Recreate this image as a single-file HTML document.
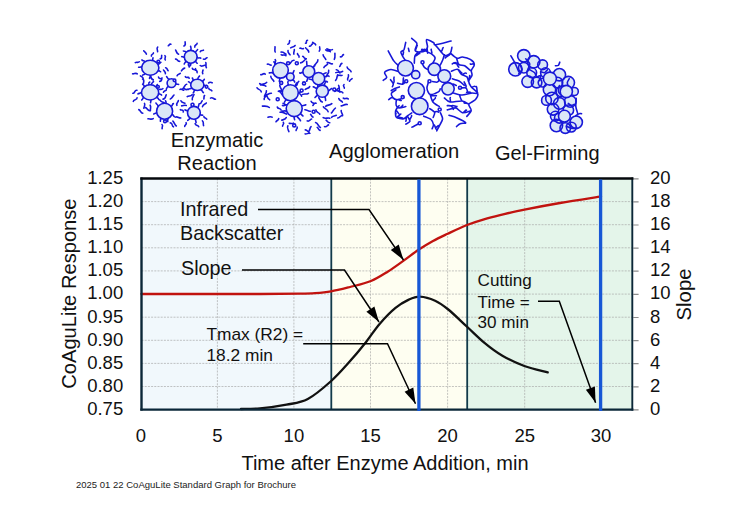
<!DOCTYPE html>
<html><head><meta charset="utf-8"><title>CoAguLite Standard Graph</title>
<style>html,body{margin:0;padding:0;background:#fff}svg{display:block}</style></head>
<body>
<svg width="752" height="505" viewBox="0 0 752 505" font-family="'Liberation Sans', Arial, sans-serif" fill="#111">
<rect width="752" height="505" fill="#fff"/>
<rect x="141.5" y="178.5" width="189.8" height="231.1" fill="#f1f8fc"/>
<rect x="331.3" y="178.5" width="135.9" height="231.1" fill="#fefef1"/>
<rect x="467.2" y="178.5" width="165.3" height="231.1" fill="#e4f5ea"/>
<path d="M141.5 201.6H632.5M141.5 224.7H632.5M141.5 247.8H632.5M141.5 270.9H632.5M141.5 294.1H632.5M141.5 317.2H632.5M141.5 340.3H632.5M141.5 363.4H632.5M141.5 386.5H632.5M217.4 178.5V409.6M293.9 178.5V409.6M370.5 178.5V409.6M447.6 178.5V409.6M524.7 178.5V409.6M601.1 178.5V409.6" stroke="#a4a4a4" stroke-width="0.65" stroke-dasharray="2 1.2" fill="none"/>
<path d="M633.3 178.8h5.3M633.3 201.9h5.3M633.3 225.0h5.3M633.3 248.1h5.3M633.3 271.2h5.3M633.3 294.4h5.3M633.3 317.5h5.3M633.3 340.6h5.3M633.3 363.7h5.3M633.3 386.8h5.3M633.3 409.9h5.3" stroke="#8c8c8c" stroke-width="1.2" fill="none"/>
<path d="M331.3 178.5V409.6M467.2 178.5V409.6" stroke="#123a4a" stroke-width="1.8" fill="none"/>
<path d="M141.5 294.0 C151.2 294.0 180.2 294.0 200.0 294.0 C219.8 294.0 243.3 294.1 260.0 294.0 C276.7 293.9 290.8 293.8 300.0 293.7 C309.2 293.6 309.8 293.6 315.0 293.2 C320.2 292.8 325.2 292.4 331.0 291.4 C336.8 290.4 343.3 288.7 350.0 287.0 C356.7 285.3 364.7 283.6 371.0 281.0 C377.3 278.4 382.5 274.9 388.0 271.5 C393.5 268.1 398.9 264.0 404.0 260.4 C409.1 256.8 413.7 253.0 418.5 249.8 C423.3 246.6 428.1 243.7 433.0 241.0 C437.9 238.3 441.9 236.5 447.6 233.8 C453.3 231.1 460.9 227.4 467.0 225.0 C473.1 222.6 478.5 220.9 484.0 219.3 C489.5 217.7 493.2 216.8 500.0 215.2 C506.8 213.6 514.5 211.6 524.5 209.6 C534.5 207.6 547.2 205.2 560.0 203.0 C572.8 200.8 594.2 197.5 601.0 196.4" stroke="#c1130f" stroke-width="2.3" fill="none" stroke-linecap="round"/>
<path d="M241.0 409.0 C244.2 408.9 252.4 409.1 260.0 408.4 C267.6 407.7 278.5 406.3 286.5 404.7 C294.5 403.1 300.4 402.9 307.8 399.0 C315.2 395.1 324.6 386.9 331.2 381.0 C337.8 375.1 341.8 370.4 347.7 363.8 C353.6 357.2 361.0 348.4 366.3 341.7 C371.6 335.0 374.7 329.5 379.6 323.9 C384.5 318.3 390.6 311.9 395.5 307.9 C400.4 303.8 404.7 301.5 408.8 299.6 C412.9 297.7 415.6 296.4 420.0 296.6 C424.4 296.8 430.4 298.6 435.1 300.7 C439.8 302.8 442.9 305.1 448.3 309.5 C453.7 313.9 461.2 321.4 467.3 327.0 C473.4 332.6 479.0 338.3 484.8 343.1 C490.6 347.9 495.8 351.9 502.4 355.7 C509.0 359.5 516.8 363.2 524.3 366.0 C531.8 368.8 543.8 371.3 547.7 372.4" stroke="#111" stroke-width="2.3" fill="none" stroke-linecap="round"/>
<path d="M141.5 177.5V410.6" stroke="#0b2738" stroke-width="2.4" fill="none"/>
<path d="M632.3 177.5V410.6" stroke="#0b2738" stroke-width="1.9" fill="none"/>
<path d="M140.3 178.5H633.4" stroke="#05080c" stroke-width="2.6" fill="none"/>
<path d="M140.3 409.6H633.4" stroke="#0b2738" stroke-width="2.2" fill="none"/>
<path d="M418.9 179.5V411.1M600.6 179.5V411.1" stroke="#1757d6" stroke-width="3.3" fill="none"/>
<polyline points="258.0,209.5 369.0,209.5 403.5,260.0" stroke="#000" stroke-width="1.5" fill="none"/>
<polygon points="403.5,260.0 390.8,249.9 398.7,244.5" fill="#000"/>
<polyline points="242.0,270.0 344.5,270.0 379.0,322.0" stroke="#000" stroke-width="1.5" fill="none"/>
<polygon points="379.0,322.0 366.4,311.7 374.4,306.4" fill="#000"/>
<polyline points="303.2,343.8 387.5,343.8 415.5,403.7" stroke="#000" stroke-width="1.5" fill="none"/>
<polygon points="415.5,403.7 404.6,391.7 413.3,387.6" fill="#000"/>
<polyline points="538.0,301.2 559.3,301.2 595.6,402.8" stroke="#000" stroke-width="1.5" fill="none"/>
<polygon points="595.6,402.8 585.9,389.8 594.9,386.6" fill="#000"/>
<text x="123.2" y="183.8" font-size="18.5" text-anchor="end" textLength="36" lengthAdjust="spacingAndGlyphs">1.25</text>
<text x="123.2" y="206.9" font-size="18.5" text-anchor="end" textLength="36" lengthAdjust="spacingAndGlyphs">1.20</text>
<text x="123.2" y="230.0" font-size="18.5" text-anchor="end" textLength="36" lengthAdjust="spacingAndGlyphs">1.15</text>
<text x="123.2" y="253.1" font-size="18.5" text-anchor="end" textLength="36" lengthAdjust="spacingAndGlyphs">1.10</text>
<text x="123.2" y="276.2" font-size="18.5" text-anchor="end" textLength="36" lengthAdjust="spacingAndGlyphs">1.05</text>
<text x="123.2" y="299.4" font-size="18.5" text-anchor="end" textLength="36" lengthAdjust="spacingAndGlyphs">1.00</text>
<text x="123.2" y="322.5" font-size="18.5" text-anchor="end" textLength="36" lengthAdjust="spacingAndGlyphs">0.95</text>
<text x="123.2" y="345.6" font-size="18.5" text-anchor="end" textLength="36" lengthAdjust="spacingAndGlyphs">0.90</text>
<text x="123.2" y="368.7" font-size="18.5" text-anchor="end" textLength="36" lengthAdjust="spacingAndGlyphs">0.85</text>
<text x="123.2" y="391.8" font-size="18.5" text-anchor="end" textLength="36" lengthAdjust="spacingAndGlyphs">0.80</text>
<text x="123.2" y="414.9" font-size="18.5" text-anchor="end" textLength="36" lengthAdjust="spacingAndGlyphs">0.75</text>
<text x="649.9" y="183.8" font-size="18.5">20</text>
<text x="649.9" y="206.9" font-size="18.5">18</text>
<text x="649.9" y="230.0" font-size="18.5">16</text>
<text x="649.9" y="253.1" font-size="18.5">14</text>
<text x="649.9" y="276.2" font-size="18.5">12</text>
<text x="649.9" y="299.4" font-size="18.5">10</text>
<text x="649.9" y="322.5" font-size="18.5">8</text>
<text x="649.9" y="345.6" font-size="18.5">6</text>
<text x="649.9" y="368.7" font-size="18.5">4</text>
<text x="649.9" y="391.8" font-size="18.5">2</text>
<text x="649.9" y="414.9" font-size="18.5">0</text>
<text x="141.0" y="441.6" font-size="18.5" text-anchor="middle">0</text>
<text x="217.4" y="441.6" font-size="18.5" text-anchor="middle">5</text>
<text x="293.9" y="441.6" font-size="18.5" text-anchor="middle">10</text>
<text x="370.5" y="441.6" font-size="18.5" text-anchor="middle">15</text>
<text x="447.6" y="441.6" font-size="18.5" text-anchor="middle">20</text>
<text x="524.7" y="441.6" font-size="18.5" text-anchor="middle">25</text>
<text x="601.1" y="441.6" font-size="18.5" text-anchor="middle">30</text>
<text x="385" y="470" font-size="20" text-anchor="middle">Time after Enzyme Addition, min</text>
<text transform="translate(76 293.6) rotate(-90)" font-size="20.15" text-anchor="middle">CoAguLite Response</text>
<text transform="translate(691 294.5) rotate(-90)" font-size="20.3" text-anchor="middle">Slope</text>
<text x="217" y="147" font-size="20.1" text-anchor="middle">Enzymatic</text>
<text x="217" y="170.3" font-size="20.1" text-anchor="middle">Reaction</text>
<text x="394.2" y="157.8" font-size="20.2" text-anchor="middle">Agglomeration</text>
<text x="547.3" y="159.7" font-size="20" text-anchor="middle">Gel-Firming</text>
<text x="180" y="216" font-size="19.8">Infrared</text>
<text x="180" y="240" font-size="19.8">Backscatter</text>
<text x="181" y="274.5" font-size="19.8">Slope</text>
<text x="206.4" y="339.5" font-size="17.35">Tmax (R2) =</text>
<text x="206.4" y="361" font-size="17.35">18.2 min</text>
<text x="477.6" y="286" font-size="17.1">Cutting</text>
<text x="477.6" y="308" font-size="17.1">Time =</text>
<text x="477.6" y="328.2" font-size="17.1">30 min</text>
<text x="76" y="487.5" font-size="9" fill="#222" textLength="220" lengthAdjust="spacingAndGlyphs">2025 01 22 CoAguLite Standard Graph for Brochure</text>
<g stroke="#1818d8" stroke-width="1.6" fill="none" stroke-linecap="round" stroke-linejoin="round">
<path d="M158.3 65.0C158.5 63.4 160.0 63.4 160.9 62.3M158.1 70.8C159.4 70.1 159.9 71.9 160.6 71.7M150.1 75.2C151.0 76.5 149.4 77.4 149.5 78.5M145.1 73.6C144.8 75.1 143.1 74.3 142.6 75.2M141.8 66.4C140.9 67.6 139.4 67.1 138.6 67.2M144.8 61.9C144.6 60.1 142.6 61.5 141.9 59.9M152.9 60.5C152.2 59.5 153.0 58.6 153.0 57.8M142.6 79.0C144.8 80.1 143.4 82.2 143.5 83.4M137.3 73.8C135.7 72.4 134.0 74.3 132.6 73.8M139.3 61.8C138.1 63.0 136.4 61.8 135.3 62.6M146.4 54.2C146.2 52.5 144.3 51.8 143.8 50.8M151.4 56.1C150.8 54.2 153.9 54.1 153.4 52.9M160.2 58.9C162.7 58.5 161.1 56.2 161.7 55.4M165.6 67.8C167.3 68.0 166.9 69.5 168.1 70.6M158.5 77.1C158.9 79.3 161.0 78.6 161.9 78.9M149.8 82.0C147.2 83.0 150.2 85.9 148.3 86.8M185.8 61.0C186.0 62.4 184.1 63.0 184.3 64.0M184.3 56.9C183.3 57.9 182.5 56.1 181.7 56.6M186.1 52.4C185.8 50.5 183.8 51.8 183.4 51.0M190.7 50.4C191.7 49.0 190.8 47.6 190.6 46.4M195.5 52.6C195.3 50.9 197.0 51.0 197.6 49.5M197.1 57.2C198.0 59.1 200.0 57.0 200.8 58.2M195.1 61.5C196.5 61.2 196.0 62.8 197.2 63.2M190.5 63.2C191.4 65.0 188.6 65.5 189.2 67.0M192.3 68.2C192.5 70.2 194.3 68.9 195.3 70.1M184.7 68.1C182.9 68.3 182.3 70.2 181.4 70.8M179.7 61.3C177.5 61.9 177.2 58.7 175.6 59.1M178.6 54.2C176.3 53.7 176.4 50.7 175.6 50.1M183.9 46.0C186.2 45.1 185.1 43.1 185.1 41.9M194.8 47.1C194.1 44.9 197.1 44.8 197.1 43.4M200.3 51.6C200.7 49.6 203.1 51.0 203.5 50.2M203.4 59.1C205.2 60.1 205.6 57.9 207.1 57.7M200.2 65.5C202.0 67.3 203.6 64.7 205.2 65.3M156.6 97.4C158.4 97.4 158.0 99.1 159.4 99.9M150.7 100.0C151.6 101.0 150.3 101.8 150.6 102.7M143.3 97.1C143.4 98.5 142.3 99.2 141.7 100.0M141.5 92.2C140.7 93.7 138.9 93.1 138.0 93.9M144.3 86.8C144.6 85.3 143.1 85.1 142.6 84.1M151.4 84.9C150.9 83.0 152.7 82.5 153.5 81.6M156.3 87.1C155.9 85.9 157.1 85.2 157.3 84.5M158.6 93.3C159.3 94.6 161.0 94.0 161.6 95.1M150.2 105.2C151.4 107.1 150.1 109.0 150.4 110.7M144.5 103.4C145.6 105.3 143.7 106.8 143.9 108.3M137.1 97.7C137.4 100.7 133.3 98.8 133.3 101.5M136.9 90.3C134.3 89.8 135.0 93.7 132.9 93.3M143.1 79.5C143.7 77.1 141.5 76.7 140.4 75.9M153.3 79.9C150.6 79.3 151.0 75.8 150.5 75.3M159.7 81.4C162.3 81.4 161.2 79.1 162.0 77.9M163.4 92.3C163.7 90.6 166.1 91.0 166.3 89.8M160.3 100.2C160.9 102.3 162.9 102.1 164.3 102.9M175.8 83.8C176.6 84.9 177.8 83.8 178.6 84.4M168.8 86.6C166.9 86.2 167.2 88.1 166.4 88.8M169.4 79.3C167.7 79.0 167.5 77.6 166.6 76.6M180.0 89.5C181.7 87.9 182.5 90.7 183.7 90.2M162.9 88.6C161.9 90.0 160.4 89.1 159.4 89.4M165.4 73.6C165.8 71.8 164.1 71.2 163.5 70.0M177.1 75.7C177.6 74.1 179.8 74.0 180.3 73.3M203.9 85.6C204.8 84.3 205.9 86.4 206.7 85.3M200.8 89.7C202.4 90.1 202.3 91.7 203.4 92.6M195.0 90.1C193.3 90.4 194.6 92.0 193.2 92.9M191.6 87.7C191.1 89.5 189.0 87.9 188.3 89.5M191.0 83.2C189.8 83.2 189.5 81.7 188.5 81.8M193.8 80.2C192.3 80.1 193.3 78.4 192.3 78.0M198.0 79.3C197.4 77.7 198.8 77.3 199.5 76.0M202.8 81.7C202.6 80.5 204.2 80.1 204.3 79.3M202.8 73.7C201.9 72.4 202.8 71.2 203.0 70.1M208.6 83.0C209.8 81.4 211.2 82.6 212.2 82.8M208.8 88.3C208.9 90.4 210.9 89.0 211.9 90.9M204.6 95.5C203.4 96.4 204.4 98.1 203.8 98.9M192.2 94.6C191.1 96.9 188.8 95.4 187.2 96.6M187.4 89.2C185.5 90.9 184.2 87.1 182.9 88.6M186.7 84.2C184.5 84.4 185.2 86.8 183.6 87.5M189.1 78.3C188.6 75.8 186.5 78.9 185.3 76.6M197.1 72.6C197.9 70.7 194.8 69.7 195.5 68.7M165.7 103.3C166.8 102.3 165.7 101.6 165.5 100.7M170.9 106.3C172.9 106.3 171.8 103.9 173.4 103.6M172.0 114.2C173.3 114.6 173.3 116.0 174.3 116.6M167.3 118.7C168.9 119.5 167.1 120.7 167.8 121.6M161.1 118.4C159.9 119.1 160.6 120.4 160.4 121.2M156.7 112.3C156.0 113.6 154.2 113.3 153.7 114.0M158.1 106.5C158.2 104.8 156.3 104.2 156.0 103.1M170.3 122.9C173.1 122.9 171.4 126.0 173.5 126.8M162.0 124.5C163.7 125.9 161.4 127.5 162.2 128.7M153.2 118.6C151.4 120.0 149.6 118.5 148.0 118.8M149.7 110.8C147.6 110.5 147.0 107.9 145.6 107.6M163.0 99.1C166.0 99.0 165.2 96.3 166.3 94.8M170.3 98.9C172.4 98.2 172.4 96.4 174.0 95.0M176.9 105.3C175.7 103.1 178.6 102.1 178.4 100.5M175.4 117.1C177.4 116.0 179.1 118.4 180.7 117.9M188.0 110.4C186.8 111.3 185.9 110.1 185.0 109.9M192.9 106.5C192.2 105.4 193.7 104.4 193.1 103.5M197.7 107.6C198.8 106.9 198.6 105.5 198.8 104.7M200.2 114.1C200.6 115.7 202.1 114.9 202.7 115.2M194.8 119.1C196.3 120.0 195.7 121.9 196.1 122.6M190.1 117.9C190.0 119.5 187.7 119.8 187.7 120.4M186.3 105.5C184.5 104.7 183.0 106.0 181.6 105.9M192.3 99.8C191.6 97.6 193.4 96.5 194.0 94.6M199.1 103.7C201.8 104.3 200.8 101.9 202.2 100.8M202.5 106.6C202.9 104.3 205.9 104.1 206.3 102.9M203.9 116.6C204.1 118.4 206.0 117.7 206.7 119.2M202.4 120.8C204.2 122.1 202.8 124.5 203.6 125.6M195.1 123.7C195.5 125.8 198.4 125.3 198.7 126.7M186.1 122.6C187.4 124.6 184.3 124.8 184.7 126.4M183.3 112.0C183.7 109.4 181.0 110.5 180.4 109.7M164.9 55.6C166.7 56.9 163.8 58.7 165.3 59.9M176.3 126.0C174.5 124.7 174.4 122.5 172.9 121.1M210.5 98.1C212.6 96.8 213.7 99.3 215.5 99.3M170.9 44.2C169.2 43.5 169.2 45.6 168.3 45.8M180.9 100.7C181.6 102.7 183.6 102.8 184.9 103.2M142.8 113.3C140.3 113.1 140.8 110.1 138.8 109.6M157.7 47.1C156.0 48.6 157.9 50.3 157.6 51.7M206.4 67.7C205.3 66.0 206.5 64.1 205.8 62.5"/>
<g fill="#dbe7f7"><ellipse cx="150.3" cy="67.7" rx="8.6" ry="7.5"/><ellipse cx="190.7" cy="56.8" rx="6.4" ry="6.4"/><ellipse cx="150.1" cy="92.4" rx="8.6" ry="7.6"/><ellipse cx="171.5" cy="83.1" rx="4.4" ry="4.4"/><ellipse cx="197.3" cy="84.9" rx="6.6" ry="5.6"/><ellipse cx="164.6" cy="111.2" rx="8.0" ry="8.0"/><ellipse cx="193.9" cy="112.8" rx="6.4" ry="6.4"/></g>
<g fill="#fff"><ellipse cx="158.3" cy="61.5" rx="1.3" ry="1.3"/><ellipse cx="174.5" cy="80.3" rx="1.3" ry="1.3"/><ellipse cx="158.0" cy="86.8" rx="1.3" ry="1.3"/><ellipse cx="206.5" cy="86.8" rx="1.3" ry="1.3"/><ellipse cx="165.0" cy="121.3" rx="1.4" ry="1.4"/><ellipse cx="192.5" cy="104.8" rx="1.5" ry="1.5"/><ellipse cx="189.5" cy="64.8" rx="1.2" ry="1.2"/></g>
<path d="M286.3 65.0C287.1 63.8 288.7 64.3 289.6 63.4M287.4 74.0C288.7 73.0 289.7 74.8 290.8 74.3M279.5 78.0C280.7 79.4 278.5 80.6 279.5 81.7M273.2 73.0C271.8 72.1 270.5 72.9 269.3 72.9M276.0 63.9C274.5 64.0 274.5 61.7 273.8 61.9M292.5 73.7C293.6 72.9 293.3 71.6 294.0 70.7M292.4 79.9C294.2 79.7 294.3 81.4 294.7 82.1M286.6 76.2C285.1 75.0 283.4 75.7 282.1 75.6M314.0 74.4C315.4 75.2 315.3 76.7 316.4 77.8M307.5 77.4C308.2 78.9 307.0 80.0 306.7 81.3M303.0 72.7C301.8 71.2 300.8 74.1 299.8 72.9M307.3 65.9C306.3 64.5 307.0 62.7 306.6 61.4M313.4 68.0C313.3 66.1 314.7 65.4 315.6 64.0M324.4 80.6C325.0 82.0 326.6 80.8 327.4 82.0M317.7 84.6C318.6 86.4 317.0 87.6 316.8 88.8M312.6 79.4C311.3 80.6 310.3 78.8 309.3 79.1M315.1 73.6C314.6 72.3 312.9 72.5 312.4 72.0M323.3 74.7C323.4 72.8 326.1 73.1 326.1 72.7M295.3 86.5C294.8 84.5 296.4 83.8 297.2 82.5M298.3 93.0C299.1 91.9 300.5 92.3 301.4 91.7M293.8 99.9C295.3 100.9 293.4 102.5 294.7 103.6M285.8 99.3C286.3 100.7 284.3 101.2 284.6 102.1M282.6 90.6C281.5 92.2 279.8 90.1 278.8 91.2M287.8 85.1C289.4 84.0 286.8 82.6 288.1 81.6M316.9 88.3C315.4 88.4 314.5 86.7 313.3 86.9M323.8 85.3C325.3 84.7 324.3 83.2 325.5 82.1M328.4 90.6C329.9 90.4 330.4 89.2 331.7 88.5M324.7 96.8C325.9 97.8 325.4 99.5 325.6 100.4M318.0 95.6C316.4 95.3 315.9 97.0 315.0 97.4M286.7 111.3C285.2 110.4 283.6 111.1 282.4 111.0M287.2 104.8C285.3 105.4 284.7 103.6 283.1 103.3M294.1 100.6C292.6 99.5 294.2 98.2 293.9 97.2M301.6 105.6C303.2 106.2 304.4 105.1 305.8 104.9M300.6 113.4C300.8 114.9 302.7 115.3 302.9 115.9M294.4 116.6C293.6 117.7 294.4 118.7 294.6 119.6M269.7 99.8C267.2 98.8 267.2 95.8 266.2 94.5M308.5 93.3C306.6 94.7 304.2 93.6 302.6 94.4M338.0 75.5C339.4 74.6 340.8 76.0 342.0 75.4M328.1 111.6C327.5 108.9 324.3 108.6 323.4 106.8M317.9 59.8C318.2 62.7 314.6 63.7 314.7 66.0M300.6 62.9C303.4 62.6 304.0 60.0 306.3 58.9M341.9 63.4C340.2 63.8 340.6 65.6 339.7 66.5M327.2 62.6C329.3 61.8 330.6 64.6 332.4 63.8M266.7 82.4C265.2 84.8 262.2 83.5 260.6 84.9M323.1 54.8C323.1 57.0 325.2 57.5 325.8 59.4M332.4 49.6C330.3 50.6 328.5 49.4 326.9 48.8M280.1 112.3C282.7 111.6 284.4 113.3 286.6 114.1M348.4 74.8C349.3 76.8 346.9 78.3 347.7 80.0M336.3 69.7C338.8 69.4 339.1 73.0 340.1 72.9M311.1 126.7C309.6 127.8 310.2 129.7 309.0 131.0M279.8 85.3C279.7 87.3 281.4 88.6 281.6 90.3M310.3 111.2C308.1 111.7 306.7 109.4 304.9 109.7M328.7 70.4C329.3 73.2 326.9 74.8 326.0 76.5M331.8 103.6C330.0 105.5 327.2 104.8 325.6 106.3M335.4 108.1C333.3 109.2 332.9 111.9 331.4 113.0M311.1 101.3C311.6 102.8 313.1 102.9 314.0 103.6M347.2 104.5C344.8 103.8 343.1 105.7 341.2 105.9M313.0 117.1C311.5 116.8 311.6 114.8 310.6 114.4M323.2 117.6C325.3 119.2 327.8 117.4 329.8 118.2M283.3 122.3C284.7 123.9 282.4 124.7 282.6 126.1M334.3 59.4C335.5 57.3 334.8 55.0 334.9 53.2M340.4 56.7C342.6 57.5 341.9 55.0 343.5 54.6M286.0 55.7C284.6 53.9 282.5 56.0 281.2 54.7M275.2 59.6C276.8 61.3 274.1 63.0 275.0 64.5M286.3 117.5C285.5 119.8 282.5 119.7 281.7 120.2M297.1 127.0C298.2 128.6 295.7 129.2 296.1 130.4M287.9 125.8C286.3 128.2 288.6 129.8 288.9 131.7M342.6 71.3C340.5 73.2 337.8 71.5 335.8 72.6M338.8 98.5C339.2 100.7 341.4 100.6 342.4 102.1M269.3 107.5C267.2 105.4 264.5 106.3 262.4 106.1M349.5 81.2C349.9 79.8 351.3 79.3 352.1 78.7M309.9 133.4C308.1 132.4 306.6 134.7 305.1 133.9M319.2 51.1C321.0 49.8 319.2 48.2 319.7 46.9M329.8 122.8C327.8 123.0 327.4 121.2 326.1 120.2M266.4 90.8C266.8 93.2 264.2 94.8 264.5 96.7M293.9 54.1C293.1 52.4 294.8 50.9 294.3 49.5M338.6 85.4C339.9 87.6 338.8 90.1 339.8 92.2M264.2 99.4C263.5 97.5 265.9 97.2 265.8 95.5M281.1 52.1C283.3 51.8 284.5 53.4 286.1 54.2M301.6 96.3C301.7 94.6 300.1 94.5 299.4 93.2M282.5 105.4C284.8 106.3 286.3 104.8 288.3 104.2M307.5 40.3C305.4 40.3 307.3 43.3 305.5 43.2M295.1 45.5C294.1 47.2 292.1 46.7 290.7 47.8M294.0 60.3C291.3 60.0 290.9 62.9 289.9 63.7M267.3 64.2C268.9 63.4 269.8 65.4 271.1 65.1M271.4 93.2C268.9 93.1 267.3 95.0 265.2 95.6M265.2 74.1C263.4 72.5 262.1 75.3 260.8 74.7M344.0 84.6C342.3 86.0 344.7 87.1 344.3 88.1M303.5 48.6C302.2 49.2 301.0 47.8 299.9 48.2M341.2 110.5C340.8 112.5 342.9 114.1 342.6 115.7M299.0 57.1C299.9 55.3 297.0 55.1 297.5 53.6M278.3 91.3C281.2 91.4 281.8 94.9 283.0 95.4M300.5 120.8C300.0 118.9 298.3 118.0 297.3 116.9M288.0 50.5C287.4 52.6 289.3 53.6 290.1 54.9M316.1 103.3C313.9 102.5 313.7 104.7 312.9 105.4M261.3 91.9C261.1 89.1 257.3 89.7 257.0 87.7M298.8 81.4C297.2 82.5 297.4 84.5 296.5 85.5M315.7 44.9C315.5 42.9 313.4 43.5 312.6 42.3M320.1 130.4C318.5 130.0 318.3 128.1 317.2 127.4M323.9 67.6C324.5 65.7 326.8 65.6 327.6 64.2M278.7 118.6C278.7 120.6 276.6 120.2 276.0 121.7M347.1 67.0C347.3 69.6 350.5 69.6 351.1 71.7M277.3 107.0C277.7 109.3 280.3 107.7 281.1 109.9M305.8 58.5C303.8 59.2 303.7 55.8 302.7 56.4M270.8 76.4C270.7 78.9 274.0 80.0 273.8 81.4M331.6 117.3C332.9 115.7 335.2 115.8 336.3 115.3M315.9 109.8C315.9 112.6 319.0 112.3 319.8 114.1M305.3 129.9C307.1 129.8 307.9 131.9 309.1 132.2M272.1 117.2C270.6 116.1 269.2 116.9 268.0 117.2M275.2 52.0C274.3 50.2 275.3 48.3 275.0 46.7M322.3 102.0C319.9 101.5 319.6 98.8 318.8 97.7M308.8 52.1C308.6 50.0 306.7 49.5 305.7 47.8M325.7 49.9C326.8 52.0 329.3 49.8 330.3 51.7M309.7 86.6C308.8 88.6 306.5 88.4 305.2 89.5M307.2 120.9C309.5 122.0 309.6 119.6 311.6 119.0M324.5 126.6C326.6 127.6 327.3 125.2 328.5 124.9M309.5 46.2C311.5 47.0 311.3 43.6 312.4 44.2M293.5 123.1C292.1 124.0 290.6 123.1 289.3 123.4M342.9 92.9C341.5 90.6 339.0 92.3 337.2 90.4M337.7 118.0C339.7 118.3 340.0 116.0 341.5 115.7M334.7 91.4C337.3 91.6 336.7 88.3 338.9 88.0M335.6 80.4C337.4 78.8 336.8 76.1 337.6 74.8M287.9 44.3C290.1 43.9 289.1 41.6 289.7 40.7M315.6 122.5C318.4 123.2 318.1 126.8 320.4 127.5M329.0 76.3C327.5 74.6 326.3 77.3 325.1 76.6M348.3 99.0C346.8 97.2 344.7 99.7 343.3 98.1M259.7 83.6C261.4 85.5 264.3 85.1 265.8 86.2"/>
<g fill="#dbe7f7"><ellipse cx="280.5" cy="70.3" rx="7.8" ry="7.8"/><ellipse cx="290.3" cy="76.8" rx="3.8" ry="3.8"/><ellipse cx="308.8" cy="71.6" rx="5.9" ry="5.9"/><ellipse cx="318.6" cy="78.6" rx="6.1" ry="6.1"/><ellipse cx="290.3" cy="92.7" rx="8.0" ry="8.0"/><ellipse cx="322.3" cy="91.2" rx="6.1" ry="6.1"/><ellipse cx="294.2" cy="108.6" rx="8.0" ry="8.0"/></g>
<g fill="#fff"><ellipse cx="296.8" cy="63.3" rx="1.5" ry="1.5"/><ellipse cx="281.2" cy="82.9" rx="1.5" ry="1.5"/><ellipse cx="304.0" cy="83.4" rx="1.5" ry="1.5"/><ellipse cx="277.7" cy="99.3" rx="1.5" ry="1.5"/><ellipse cx="334.3" cy="89.5" rx="1.5" ry="1.5"/><ellipse cx="313.6" cy="111.7" rx="1.5" ry="1.5"/><ellipse cx="294.2" cy="125.4" rx="1.5" ry="1.5"/><ellipse cx="301.6" cy="90.5" rx="1.5" ry="1.5"/><ellipse cx="288.1" cy="63.3" rx="1.5" ry="1.5"/></g>
</g>
<g stroke="#1818d8" stroke-width="1.6" fill="none" stroke-linecap="round" stroke-linejoin="round">
<path d="M388.2 50.9C389.0 52.4 392.4 58.9 393.8 60.9C395.2 63.0 397.5 64.7 398.1 65.3M405.7 42.4C405.4 43.4 404.7 48.2 404.0 49.6C403.3 50.9 401.1 51.0 400.9 51.8C400.6 52.7 401.7 54.4 402.3 55.7C402.9 56.9 404.8 59.6 405.2 60.3M402.3 55.7C403.6 54.6 403.4 52.8 403.5 51.8M411.7 38.4C412.5 39.1 416.4 41.8 416.9 43.4C417.4 45.1 414.8 48.9 415.1 50.1C415.3 51.3 417.2 51.8 418.6 52.0C420.0 52.1 423.5 51.9 424.8 51.1C426.1 50.4 427.2 48.5 427.5 46.8C427.7 45.2 425.7 40.2 426.6 39.6C427.5 39.0 432.4 42.0 433.7 42.7C435.0 43.5 433.2 45.1 435.6 44.8C438.1 44.6 448.9 41.5 451.1 41.0M415.1 50.1C416.7 48.8 416.3 46.8 417.3 45.4M418.6 52.0C421.5 52.7 423.2 49.0 424.9 49.4M424.8 51.1C423.0 52.0 423.0 48.6 421.7 49.5M427.5 46.8C426.4 49.1 427.8 51.3 427.6 53.2M418.1 52.2C417.7 52.8 415.4 54.4 414.9 56.0C414.4 57.5 414.4 62.1 414.3 63.1M414.9 56.0C417.3 56.5 418.2 53.2 419.7 53.5M425.2 50.9C426.1 51.4 430.0 53.0 431.5 53.9C432.9 54.9 434.9 56.6 435.1 57.9C435.3 59.2 433.2 62.4 432.8 63.1M431.5 53.9C432.7 52.2 430.9 50.6 431.2 49.3M435.5 45.2C436.3 46.1 439.4 50.0 440.7 51.4C442.0 52.9 443.6 55.3 444.9 55.5C446.3 55.8 449.3 54.3 450.3 53.2C451.3 52.0 451.7 48.2 451.9 47.4M440.7 51.4C443.1 51.1 441.7 48.9 443.2 47.7M444.9 55.5C447.3 56.3 448.9 54.2 450.7 54.0M450.3 53.2C449.6 55.9 446.4 56.4 445.3 58.0M444.3 54.8C444.1 55.5 443.4 58.3 442.8 59.8C442.2 61.3 440.6 64.4 440.2 65.1M450.4 53.0C451.3 53.8 455.2 57.6 457.0 58.2C458.7 58.8 460.4 56.8 462.4 57.0C464.3 57.2 469.1 58.6 470.8 59.7C472.6 60.8 474.3 63.1 474.3 64.7C474.4 66.2 471.6 68.9 471.3 70.5C471.0 72.0 472.4 73.8 472.0 75.3C471.7 76.8 468.9 79.3 468.7 80.9C468.6 82.6 469.7 84.8 471.0 86.6C472.3 88.4 477.1 91.5 477.7 93.3C478.4 95.2 476.8 98.0 475.5 99.6C474.2 101.1 469.4 102.8 468.8 104.3C468.2 105.9 471.5 108.7 471.2 110.5C470.9 112.2 467.5 115.6 466.8 116.4M474.3 64.7C473.3 62.5 471.4 65.2 470.3 63.9M468.7 80.9C470.2 79.3 469.0 77.0 469.8 75.5M471.0 86.6C472.5 88.1 474.0 85.5 475.2 86.5M477.7 93.3C476.3 91.1 477.6 88.6 476.3 86.5M468.8 104.3C467.5 102.6 465.3 103.8 464.1 102.8M456.6 58.1C456.9 59.0 457.6 63.4 458.8 64.5C459.9 65.6 463.0 65.0 464.7 65.8C466.3 66.7 469.6 69.8 470.4 70.4M458.8 64.5C457.7 62.2 455.2 64.0 454.3 63.2M451.4 71.3C452.3 71.0 456.0 68.9 457.4 69.3C458.8 69.7 459.8 72.9 461.1 74.0C462.5 75.1 465.9 75.9 467.0 76.9C468.0 78.0 468.3 80.9 468.5 81.6M457.4 69.3C459.6 69.6 459.8 72.1 461.7 72.7M461.1 74.0C463.2 75.7 464.7 71.7 466.3 73.3M452.4 78.8C453.4 79.1 457.7 80.3 459.4 81.2C461.0 82.1 463.5 84.8 464.2 85.4M453.4 93.0C454.7 93.3 459.6 95.0 462.1 95.0C464.6 95.0 468.8 93.3 471.0 93.1C473.1 92.9 476.3 93.4 477.2 93.5M471.0 93.1C469.8 91.2 467.9 92.6 466.6 92.2M444.4 98.0C445.2 98.6 447.4 101.6 450.0 102.0C452.5 102.4 459.4 100.6 462.1 101.0C464.8 101.3 467.8 103.8 468.8 104.3M450.0 102.0C451.5 100.5 449.2 98.8 450.3 97.5M462.1 101.0C460.5 99.3 460.3 96.8 459.5 95.2M447.3 109.9C448.5 109.6 453.5 107.5 455.7 107.9C457.8 108.3 460.2 112.3 462.4 112.7C464.6 113.1 469.7 111.1 470.9 110.8M462.4 112.7C464.7 113.2 464.8 109.8 466.5 110.2M449.0 115.2C450.1 115.6 454.1 116.7 456.5 117.7C458.9 118.8 465.2 121.8 465.7 122.7C466.2 123.5 461.4 123.1 460.1 123.7C458.8 124.2 457.0 126.2 456.5 126.6M440.4 112.7C440.7 113.6 442.7 117.0 442.6 118.9C442.5 120.7 440.3 123.9 439.5 125.6C438.7 127.3 437.1 130.1 436.7 130.9M439.5 125.6C437.6 124.8 437.0 127.9 436.1 127.2M423.7 116.2C424.8 116.7 429.6 118.3 431.0 119.5C432.4 120.7 433.3 123.2 433.5 124.6C433.6 125.9 432.3 128.2 432.1 128.8M433.5 124.6C435.7 125.5 434.9 128.4 436.5 129.4M411.8 112.9C411.2 113.3 408.5 115.1 407.3 116.0C406.1 116.8 405.0 118.6 403.4 118.8C401.9 119.0 397.5 118.5 396.4 117.3C395.3 116.1 395.3 112.1 395.7 110.5C396.1 108.8 398.6 106.3 399.1 105.6M407.3 116.0C405.0 117.3 407.0 119.9 405.8 121.2M403.4 118.8C402.4 117.0 400.6 117.9 399.3 117.4M396.4 117.3C394.7 116.0 395.8 114.4 396.0 113.2M395.7 110.5C397.9 111.0 398.2 114.0 399.6 114.4M407.3 116.1C407.7 116.8 410.1 120.2 409.9 121.4C409.7 122.5 406.4 123.7 405.8 124.1M409.9 121.4C408.6 118.8 412.1 117.7 411.6 115.5M419.3 123.4C418.7 123.7 416.2 125.1 415.2 125.6C414.1 126.1 412.3 126.9 411.9 127.1M403.7 97.7C402.7 98.0 398.6 99.7 397.1 99.7C395.5 99.6 393.6 98.5 392.8 97.6C392.0 96.6 391.0 94.4 391.4 93.3C391.9 92.1 395.3 90.3 395.9 89.8M397.1 99.7C398.8 98.6 399.7 101.0 401.2 100.5M392.8 97.6C390.8 97.2 390.1 98.9 388.7 99.6M396.4 100.1C396.3 100.8 395.7 104.0 396.1 105.1C396.4 106.3 397.6 107.8 399.0 108.0C400.4 108.2 404.8 106.7 405.8 106.5M399.0 108.0C401.0 107.9 401.8 106.3 402.8 105.2M398.9 71.7C397.8 71.4 393.0 69.4 391.0 69.5C389.0 69.6 385.2 71.3 384.6 72.4C384.0 73.6 386.9 76.2 386.7 77.3C386.5 78.5 383.7 79.9 383.2 80.3M399.4 86.9C398.7 87.1 396.0 88.0 394.8 88.5C393.6 89.0 391.7 90.3 391.2 90.6M428.3 82.6C428.1 83.4 426.7 86.8 427.0 88.5C427.2 90.2 428.5 93.9 430.1 94.4C431.7 94.9 436.9 92.7 438.4 91.9C439.9 91.1 440.0 89.2 440.3 88.8M430.1 94.4C431.9 96.7 434.7 95.3 436.4 95.7M430.1 94.2C430.5 95.4 431.6 100.3 432.9 102.0C434.2 103.8 438.4 105.9 439.3 106.5M432.9 102.0C432.2 99.6 436.1 98.9 435.4 97.7M429.7 108.6C430.4 109.1 434.1 111.3 434.6 112.5C435.1 113.8 433.4 116.7 433.2 117.4M434.6 112.5C435.9 110.6 437.4 111.8 438.6 112.1M421.9 62.7C422.2 63.3 423.3 65.9 424.1 66.9C424.9 67.9 426.9 69.1 427.4 69.4M406.0 81.1C405.5 81.6 403.8 83.9 402.6 84.2C401.3 84.5 398.2 83.3 397.5 83.2M402.6 84.2C403.8 82.1 402.8 79.7 403.5 77.9M460.2 88.0C461.0 88.0 464.9 87.5 465.9 87.9C466.9 88.3 467.2 90.6 467.4 91.0M465.9 87.9C467.0 85.3 465.0 84.1 464.1 81.9M452.2 64.0C452.6 63.8 454.1 62.4 455.1 62.5C456.1 62.5 458.7 64.2 459.3 64.5M455.1 62.5C457.7 63.1 456.9 65.8 458.8 67.1M408.4 48.4C408.5 48.8 409.0 50.9 409.1 51.4M440.0 78.8C439.6 79.3 438.4 81.7 437.3 82.1C436.2 82.5 433.0 81.5 432.3 81.5M453.0 84.0C453.4 84.2 455.8 85.2 456.3 85.4M447.3 105.6C447.8 105.7 450.5 105.4 451.4 106.0C452.2 106.5 453.1 108.9 453.4 109.4M451.4 106.0C453.4 104.5 455.3 106.9 456.9 106.4M400.8 114.1C400.4 114.4 398.2 116.2 397.8 116.5M390.5 79.7C390.9 80.3 393.1 82.8 393.3 83.8C393.6 84.8 392.5 86.2 392.4 86.6M393.3 83.8C395.5 81.6 393.0 79.1 394.1 77.1"/>
<g fill="#dbe7f7"><ellipse cx="405.5" cy="68.1" rx="7.9" ry="7.9"/><ellipse cx="415.7" cy="74.7" rx="4.1" ry="4.1"/><ellipse cx="434.3" cy="69.2" rx="6.2" ry="6.2"/><ellipse cx="444.3" cy="76.2" rx="6.4" ry="6.4"/><ellipse cx="416.4" cy="90.6" rx="8.1" ry="8.1"/><ellipse cx="448.0" cy="88.8" rx="6.2" ry="6.2"/><ellipse cx="419.7" cy="106.3" rx="8.3" ry="8.3"/></g>
<g fill="#fff"><ellipse cx="422.5" cy="62.2" rx="1.5" ry="1.5"/><ellipse cx="406.2" cy="81.2" rx="1.5" ry="1.5"/><ellipse cx="429.5" cy="81.2" rx="1.5" ry="1.5"/><ellipse cx="402.7" cy="97.1" rx="1.5" ry="1.5"/><ellipse cx="460.0" cy="87.7" rx="1.5" ry="1.5"/><ellipse cx="439.7" cy="109.5" rx="1.5" ry="1.5"/><ellipse cx="419.7" cy="123.2" rx="1.5" ry="1.5"/></g>
<g fill="#dbe7f7" stroke="none"><ellipse cx="523.8" cy="55.8" rx="6.2" ry="6.2"/><ellipse cx="515.4" cy="69.3" rx="6.7" ry="6.7"/><ellipse cx="533.7" cy="61.8" rx="6.2" ry="6.2"/><ellipse cx="542.6" cy="64.8" rx="4.9" ry="4.9"/><ellipse cx="527.7" cy="81.6" rx="5.8" ry="5.8"/><ellipse cx="536.6" cy="82.6" rx="5.3" ry="5.3"/><ellipse cx="559.4" cy="74.7" rx="6.2" ry="6.2"/><ellipse cx="568.3" cy="82.6" rx="6.2" ry="6.2"/><ellipse cx="549.5" cy="89.5" rx="6.2" ry="6.2"/><ellipse cx="551.9" cy="98.4" rx="6.2" ry="6.2"/><ellipse cx="559.4" cy="103.4" rx="5.8" ry="5.8"/><ellipse cx="570.3" cy="101.4" rx="5.8" ry="5.8"/><ellipse cx="553.1" cy="109.3" rx="5.8" ry="5.8"/><ellipse cx="576.2" cy="122.2" rx="6.2" ry="6.2"/><ellipse cx="556.4" cy="125.5" rx="6.2" ry="6.2"/><ellipse cx="565.3" cy="128.1" rx="5.3" ry="5.3"/><ellipse cx="555.4" cy="116.2" rx="4.9" ry="4.9"/><ellipse cx="574.3" cy="91.5" rx="4.0" ry="4.0"/><ellipse cx="545.5" cy="72.7" rx="4.9" ry="4.9"/><ellipse cx="561.4" cy="91.5" rx="5.3" ry="5.3"/><ellipse cx="557.4" cy="82.6" rx="5.3" ry="5.3"/><ellipse cx="546.5" cy="100.4" rx="4.9" ry="4.9"/><ellipse cx="568.3" cy="110.3" rx="5.3" ry="5.3"/><ellipse cx="523.8" cy="67.7" rx="5.3" ry="5.3"/><ellipse cx="531.7" cy="72.7" rx="4.9" ry="4.9"/><ellipse cx="559.4" cy="118.2" rx="4.9" ry="4.9"/><ellipse cx="571.3" cy="127.1" rx="4.9" ry="4.9"/><ellipse cx="542.6" cy="82.6" rx="4.4" ry="4.4"/></g>
<g><ellipse cx="523.8" cy="55.8" rx="6.2" ry="6.2"/><ellipse cx="515.4" cy="69.3" rx="6.7" ry="6.7"/><ellipse cx="533.7" cy="61.8" rx="6.2" ry="6.2"/><ellipse cx="542.6" cy="64.8" rx="4.9" ry="4.9"/><ellipse cx="527.7" cy="81.6" rx="5.8" ry="5.8"/><ellipse cx="536.6" cy="82.6" rx="5.3" ry="5.3"/><ellipse cx="559.4" cy="74.7" rx="6.2" ry="6.2"/><ellipse cx="568.3" cy="82.6" rx="6.2" ry="6.2"/><ellipse cx="549.5" cy="89.5" rx="6.2" ry="6.2"/><ellipse cx="551.9" cy="98.4" rx="6.2" ry="6.2"/><ellipse cx="559.4" cy="103.4" rx="5.8" ry="5.8"/><ellipse cx="570.3" cy="101.4" rx="5.8" ry="5.8"/><ellipse cx="553.1" cy="109.3" rx="5.8" ry="5.8"/><ellipse cx="576.2" cy="122.2" rx="6.2" ry="6.2"/><ellipse cx="556.4" cy="125.5" rx="6.2" ry="6.2"/><ellipse cx="565.3" cy="128.1" rx="5.3" ry="5.3"/><ellipse cx="555.4" cy="116.2" rx="4.9" ry="4.9"/><ellipse cx="574.3" cy="91.5" rx="4.0" ry="4.0"/><ellipse cx="545.5" cy="72.7" rx="4.9" ry="4.9"/><ellipse cx="561.4" cy="91.5" rx="5.3" ry="5.3"/><ellipse cx="557.4" cy="82.6" rx="5.3" ry="5.3"/><ellipse cx="546.5" cy="100.4" rx="4.9" ry="4.9"/><ellipse cx="568.3" cy="110.3" rx="5.3" ry="5.3"/><ellipse cx="523.8" cy="67.7" rx="5.3" ry="5.3"/><ellipse cx="531.7" cy="72.7" rx="4.9" ry="4.9"/><ellipse cx="559.4" cy="118.2" rx="4.9" ry="4.9"/><ellipse cx="571.3" cy="127.1" rx="4.9" ry="4.9"/><ellipse cx="542.6" cy="82.6" rx="4.4" ry="4.4"/></g>
<path d="M510.9 55.8C511.5 56.8 513.7 60.5 514.9 62.8C516.0 65.0 518.2 70.4 518.8 71.7M555.4 65.7C555.9 65.7 557.8 65.9 558.4 65.3C559.0 64.8 559.6 62.6 559.8 62.2M576.2 98.4C576.2 99.5 575.6 104.2 575.8 106.3C576.0 108.5 577.4 112.3 577.6 113.3M575.8 115.6C576.3 115.4 578.4 113.9 579.2 113.7C580.0 113.4 581.2 113.7 581.6 113.7M566.3 126.1C567.0 126.4 569.7 127.8 571.3 128.1C572.9 128.5 576.7 128.5 577.6 128.5M529.7 69.7C530.4 70.1 533.7 71.7 534.7 72.7C535.6 73.7 535.8 76.2 536.6 76.6C537.5 77.1 540.2 75.1 540.6 75.6C541.0 76.2 539.7 79.9 539.6 80.6M525.7 58.8C526.3 59.5 529.4 62.2 529.7 63.8C530.0 65.3 528.0 68.9 527.7 69.7M569.3 78.6C569.0 79.2 567.5 81.4 567.3 82.6C567.2 83.7 568.2 86.0 568.3 86.5M559.4 85.5C559.3 86.4 558.1 90.1 558.4 91.5C558.7 92.9 561.0 94.9 561.4 95.4M568.3 103.4C568.7 103.6 570.4 105.2 571.3 105.3C572.1 105.5 573.8 104.5 574.3 104.4M547.5 69.7C547.1 70.1 545.5 72.4 544.6 72.7C543.6 73.0 541.2 71.8 540.6 71.7M519.8 63.8C520.1 64.6 521.9 68.3 521.8 69.7C521.6 71.1 519.2 73.1 518.8 73.7"/>
<g fill="#dbe7f7"><ellipse cx="549.9" cy="78.6" rx="6.5" ry="6.5"/><ellipse cx="566.3" cy="91.5" rx="6.1" ry="6.1"/><ellipse cx="564.4" cy="116.2" rx="5.9" ry="5.9"/></g>
</g>
</svg>
</body></html>
